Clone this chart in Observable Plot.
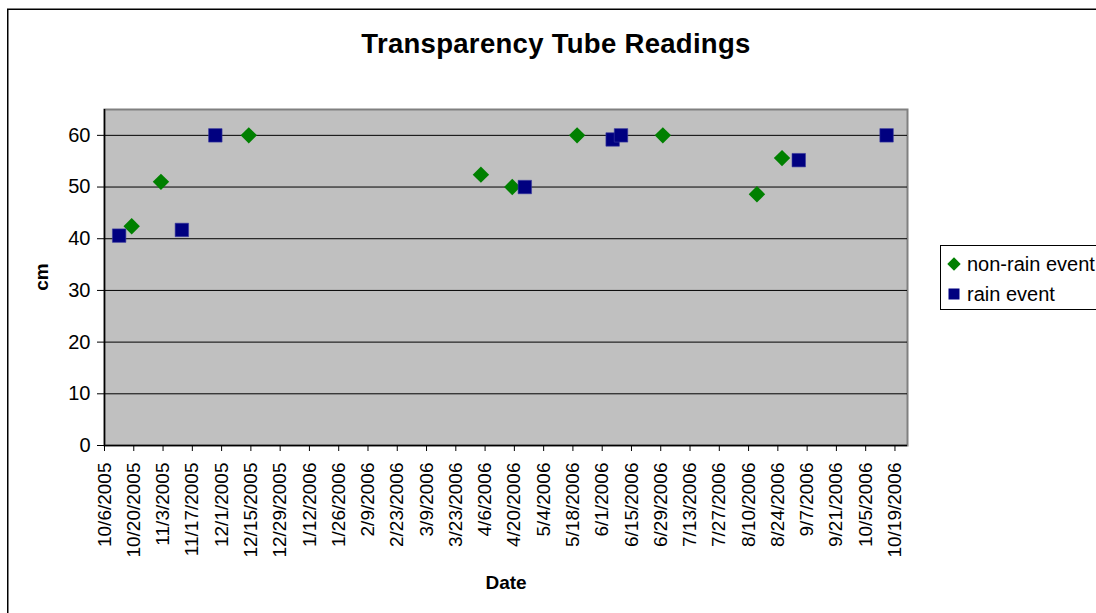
<!DOCTYPE html>
<html><head><meta charset="utf-8">
<script src="https://cdn.jsdelivr.net/npm/d3@7"></script>
<script src="https://cdn.jsdelivr.net/npm/@observablehq/plot@0.6"></script>
<style>body{margin:0;background:#fff} svg{display:block}</style>
</head><body><div id="chart"></div>
<script>
// Data
const nonRainDates = ["2005-10-19","2005-11-02","2005-12-14","2006-04-04","2006-04-19","2006-05-20","2006-06-30","2006-08-14","2006-08-26"];
const nonRainValues = [42.4, 51.0, 60, 52.4, 50, 60, 60, 48.6, 55.6];
const rainDates = ["2005-10-13","2005-11-12","2005-11-28","2006-04-25","2006-06-06","2006-06-10","2006-09-03","2006-10-15"];
const rainValues = [40.6, 41.7, 60, 50, 59.2, 60, 55.2, 60];
const xTickLabels = ["10/6/2005","10/20/2005","11/3/2005","11/17/2005","12/1/2005","12/15/2005","12/29/2005","1/12/2006","1/26/2006","2/9/2006","2/23/2006","3/9/2006","3/23/2006","4/6/2006","4/20/2006","5/4/2006","5/18/2006","6/1/2006","6/15/2006","6/29/2006","7/13/2006","7/27/2006","8/10/2006","8/24/2006","9/7/2006","9/21/2006","10/5/2006","10/19/2006"];
const yTicks = [0, 10, 20, 30, 40, 50, 60];
const xDomain = ["2005-10-06", "2006-10-25"];
const yDomain = [0, 65];
const seriesNames = ["non-rain event", "rain event"];
const titleText = "Transparency Tube Readings";
const xLabel = "Date";
const yLabel = "cm";

const parse = d3.utcParse("%Y-%m-%d");
const tickParse = d3.utcParse("%m/%d/%Y");
const nonRain = nonRainDates.map((d, i) => ({date: parse(d), value: nonRainValues[i]}));
const rain = rainDates.map((d, i) => ({date: parse(d), value: rainValues[i]}));
const xTicks = xTickLabels.map(s => tickParse(s));
const labelByTime = new Map(xTicks.map((d, i) => [+d, xTickLabels[i]]));
const font = "'Liberation Sans', Arial, sans-serif";

const svg = Plot.plot({
  width: 1096, height: 613,
  marginLeft: 104, marginRight: 189, marginTop: 109, marginBottom: 168,
  style: {fontFamily: font, background: "#fff", color: "#000", overflow: "visible"},
  x: {type: "utc", domain: xDomain.map(parse)},
  y: {domain: yDomain},
  marks: [
    Plot.frame({fill: "#C0C0C0", stroke: "#808080", strokeWidth: 2}),
    Plot.ruleY(yTicks.filter(v => v > 0), {stroke: "#000", strokeWidth: 1}),
    Plot.axisY({ticks: yTicks, tickSize: 7, tickPadding: 7, fontSize: 20, label: null}),
    Plot.axisX({ticks: xTicks, tickFormat: d => labelByTime.get(+d), tickRotate: -90, tickSize: 6, tickPadding: 11, fontSize: 19, label: null}),
    Plot.ruleX([parse(xDomain[0])], {stroke: "#000", strokeWidth: 1.5}),
    Plot.ruleY([0], {stroke: "#000", strokeWidth: 1.5}),
    Plot.dot(nonRain, {x: "date", y: "value", symbol: "diamond2", r: 7.4, fill: "#008000", stroke: "none"}),
    Plot.dot(rain, {x: "date", y: "value", symbol: "square", r: 7.6, fill: "#000080", stroke: "#3a3aa0", strokeWidth: 0.6})
  ]
});

const s = d3.select(svg);
// outer chart border (left and top visible)
s.append("path").attr("d", "M7.75,613V9.25H1096").attr("fill", "none").attr("stroke", "#000").attr("stroke-width", 1.5);
s.append("text").attr("x", 556).attr("y", 53).attr("text-anchor", "middle")
  .attr("font-family", font).attr("font-size", 27.5).attr("font-weight", "bold")
  .attr("letter-spacing", 0.3).text(titleText);
s.append("text").attr("x", 506).attr("y", 589).attr("text-anchor", "middle")
  .attr("font-family", font).attr("font-size", 19).attr("font-weight", "bold").text(xLabel);
s.append("text").attr("transform", "translate(48,277) rotate(-90)").attr("text-anchor", "middle")
  .attr("font-family", font).attr("font-size", 19).attr("font-weight", "bold").text(yLabel);
// legend
const lg = s.append("g").attr("text-anchor", "start");
lg.append("rect").attr("x", 940.5).attr("y", 245.5).attr("width", 170).attr("height", 64)
  .attr("fill", "#fff").attr("stroke", "#000").attr("stroke-width", 1);
lg.append("path").attr("transform", "translate(954,264)").attr("d", d3.symbol(d3.symbolDiamond2, 115)()).attr("fill", "#008000");
lg.append("rect").attr("x", 948.5).attr("y", 288.5).attr("width", 11).attr("height", 11).attr("fill", "#000080");
lg.append("text").attr("x", 967).attr("y", 271).attr("text-anchor", "start").attr("font-family", font).attr("font-size", 20).text(seriesNames[0]);
lg.append("text").attr("x", 967).attr("y", 301).attr("text-anchor", "start").attr("font-family", font).attr("font-size", 20).text(seriesNames[1]);

document.getElementById("chart").appendChild(svg);
</script>
</body></html>
